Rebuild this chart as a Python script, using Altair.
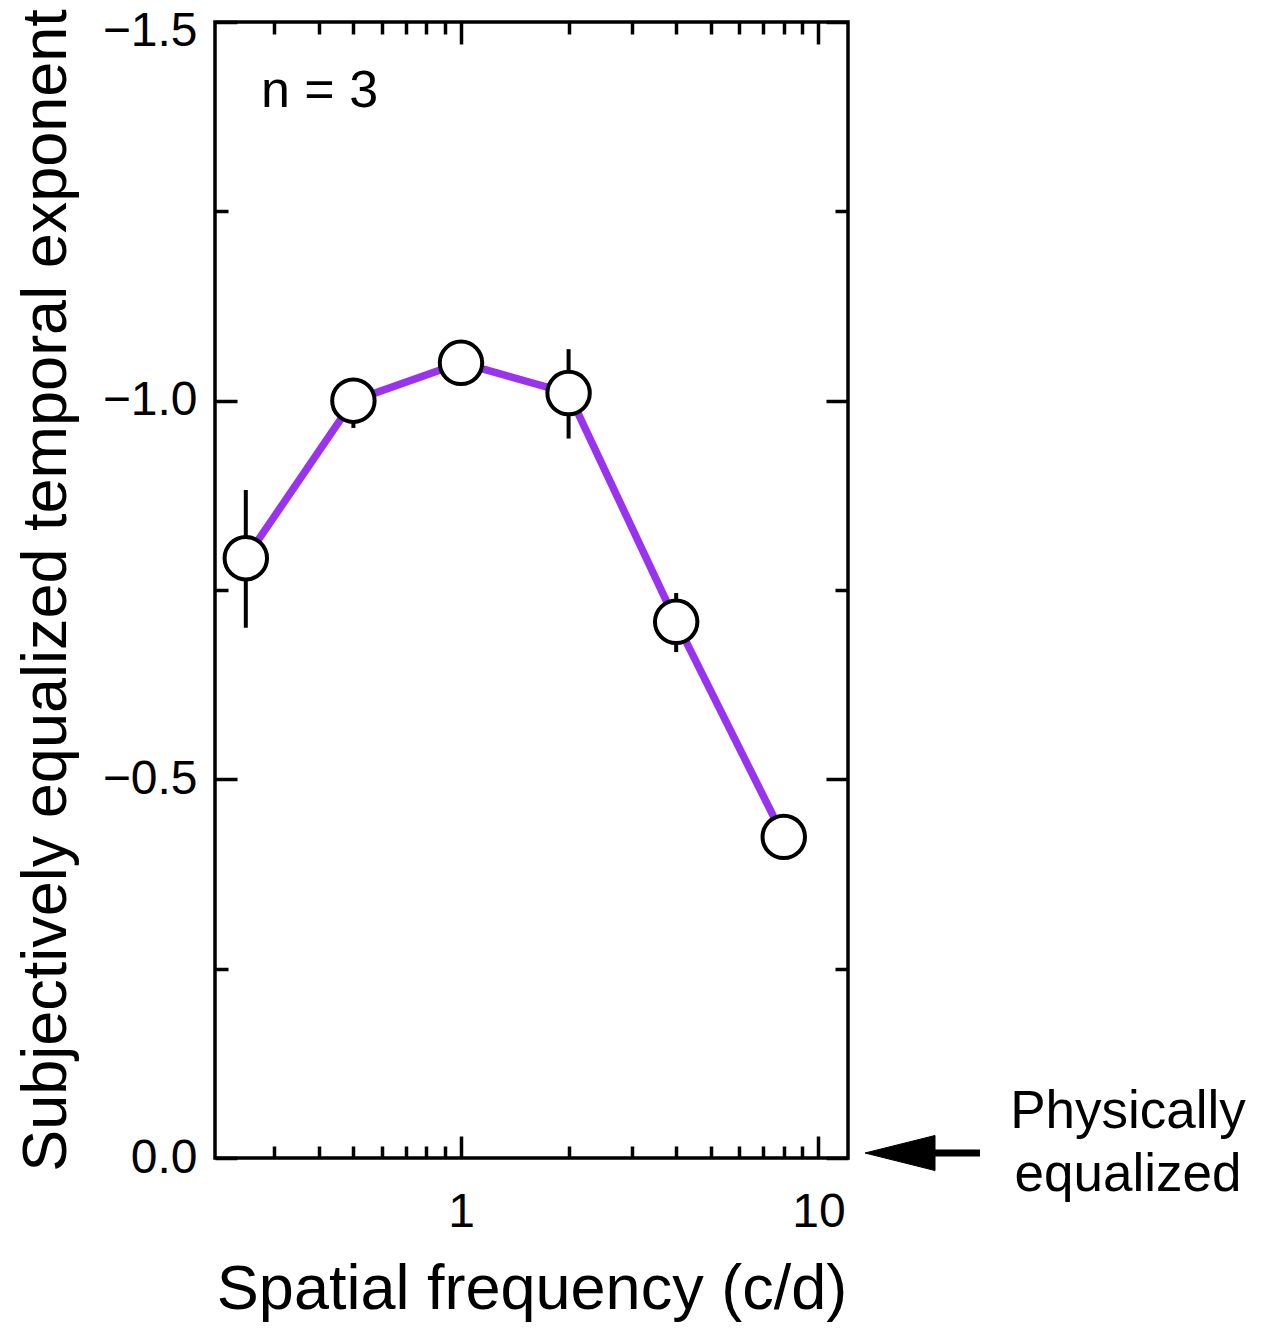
import altair as alt
import pandas as pd

# ---- data ----
freq = [0.25, 0.5, 1, 2, 4, 8]
exponent = [-0.792, -1.0, -1.05, -1.01, -0.708, -0.424]
err_low = [-0.700, -0.964, -1.03, -0.950, -0.668, -0.41]
err_high = [-0.882, -1.029, -1.07, -1.068, -0.746, -0.44]

x_major = [1, 10]
x_minor = [0.3, 0.4, 0.5, 0.6, 0.7, 0.8, 0.9, 2, 3, 4, 5, 6, 7, 8, 9]
y_major = [-1.5, -1.0, -0.5, 0.0]
y_minor = [-1.25, -0.75, -0.25]

x_title = "Spatial frequency (c/d)"
y_title = "Subjectively equalized temporal exponent"
n_label = ["n = 3"]
note_lines = ["Physically", "equalized"]

FONT = "Liberation Sans"
PURPLE = "#9933ee"

df = pd.DataFrame({"freq": freq, "exponent": exponent, "lo": err_low, "hi": err_high})

xscale = alt.Scale(type="log", domain=[0.205, 12.1], nice=False)
yscale = alt.Scale(domain=[-1.5, 0], reverse=True, nice=False, zero=False)


def tick_axis(values, orient, size):
    return alt.Axis(values=values, orient=orient, labels=False, ticks=True,
                    tickSize={"expr": str(-size)}, tickWidth=3.5, tickColor="black",
                    domain=False, grid=False, title=None)


base = alt.Chart(df)

main_x_axis = alt.Axis(values=x_major, format="~g", orient="bottom", ticks=False,
                       domain=False, grid=False, labelFont=FONT, labelFontSize=48,
                       labelColor="black", labelPadding=30, title=x_title,
                       titleFont=FONT, titleFontSize=63, titleFontWeight="normal",
                       titleColor="black", titlePadding=22)
main_y_axis = alt.Axis(values=y_major, format=".1f", orient="left", ticks=False,
                       domain=False, grid=False, labelFont=FONT, labelFontSize=48,
                       labelColor="black", labelPadding=18,
                       labelBaseline={"condition": {"test": "datum.value == -1.5",
                                                    "value": "line-top"},
                                      "value": "middle"},
                       labelLineHeight=18,
                       title=y_title,
                       titleFont=FONT, titleFontSize=63, titleFontWeight="normal",
                       titleColor="black", titlePadding=24)

line = base.mark_line(color=PURPLE, strokeWidth=7.5).encode(
    x=alt.X("freq:Q", scale=xscale, axis=main_x_axis),
    y=alt.Y("exponent:Q", scale=yscale, axis=main_y_axis),
)


def tick_layer(xv, xo, xs, yv, yo, ys):
    return base.mark_point(opacity=0).encode(
        x=alt.X("freq:Q", scale=xscale, axis=tick_axis(xv, xo, xs)),
        y=alt.Y("exponent:Q", scale=yscale, axis=tick_axis(yv, yo, ys)),
    )


t1 = tick_layer(x_major, "bottom", 22, y_major, "left", 22)
t2 = tick_layer(x_minor, "bottom", 12, y_minor, "left", 13)
t3 = tick_layer(x_major, "top", 22, y_major, "right", 22)
t4 = tick_layer(x_minor, "top", 12, y_minor, "right", 13)

errbars = base.mark_rule(color="black", strokeWidth=4).encode(
    x=alt.X("freq:Q", scale=xscale, axis=None),
    y=alt.Y("lo:Q", scale=yscale, axis=None),
    y2="hi:Q",
)

points = base.mark_point(shape="circle", filled=True, fill="white", stroke="black",
                         strokeWidth=4, size=1800, opacity=1).encode(
    x=alt.X("freq:Q", scale=xscale, axis=None),
    y=alt.Y("exponent:Q", scale=yscale, axis=None),
)

n_text = alt.Chart(pd.DataFrame({"t": n_label})).mark_text(
    font=FONT, fontSize=52, align="left", baseline="middle", color="black"
).encode(x=alt.value(46), y=alt.value(69), text="t:N")

note = alt.Chart(pd.DataFrame({"t": [note_lines]})).mark_text(
    font=FONT, fontSize=53, align="center", baseline="middle", color="black",
    lineHeight=63
).encode(x=alt.value(913), y=alt.value(1090), text="t")

arrow_df = pd.DataFrame({"k": [0]})
arrow_shaft = alt.Chart(arrow_df).mark_rule(color="black", strokeWidth=7).encode(
    x=alt.value(705), x2=alt.value(765), y=alt.value(1131)
)
arrow_head = alt.Chart(arrow_df).mark_point(
    shape="M -1 0 L 1 -0.5 L 1 0.5 Z", filled=True, fill="black", stroke="black",
    strokeWidth=1, size=4900, opacity=1
).encode(x=alt.value(685), y=alt.value(1131))

chart = alt.layer(
    t1, t2, t3, t4, errbars, line, points, n_text, note, arrow_shaft, arrow_head
).resolve_axis(x="independent", y="independent").resolve_scale(
    x="shared", y="shared"
).properties(
    width=633, height=1136,
    autosize=alt.AutoSizeParams(type="none"),
    padding={"left": 215, "top": 22, "right": 421, "bottom": 170},
    background="white",
).configure_view(stroke="black", strokeWidth=3.5)

chart.save("out.html", embed_options={"renderer": "svg", "actions": False})
